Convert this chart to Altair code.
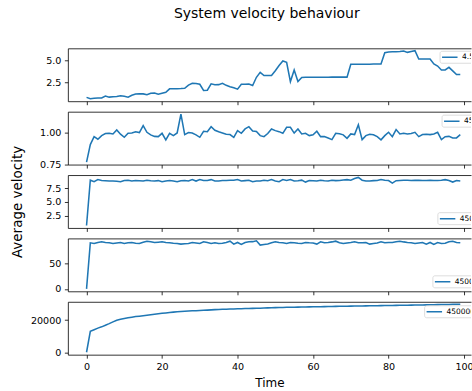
import altair as alt
import pandas as pd

# ---------------- data ----------------
steps = list(range(100))
legend_labels = ["4.5", "45", "450", "4500", "450000"]
x_ticks = [0, 20, 40, 60, 80, 100]
y_ticks = [[2.5, 5.0], [0.75, 1.00], [2.5, 5.0, 7.5], [0, 50], [0, 20000]]

v1 = [0.80, 0.64, 0.70, 0.72, 0.74, 0.95, 0.83, 0.88, 0.90, 0.98,
      0.92, 0.83, 1.05, 1.18, 1.20, 1.20, 1.10, 1.28, 1.30, 1.17,
      1.28, 1.38, 1.78, 1.80, 1.80, 1.81, 1.84, 2.20, 2.42, 2.40,
      2.30, 1.59, 1.62, 2.35, 2.25, 2.26, 2.42, 2.18, 2.02, 1.90,
      1.74, 2.31, 2.30, 2.33, 2.16, 3.10, 3.67, 3.30, 3.30, 3.30,
      3.85, 4.45, 4.96, 4.81, 2.61, 3.94, 2.61, 3.08, 3.10, 3.10,
      3.11, 3.11, 3.11, 3.11, 3.11, 3.12, 3.12, 3.12, 3.12, 3.12,
      4.58, 4.60, 4.60, 4.60, 4.60, 4.60, 4.61, 4.61, 4.62, 5.91,
      6.00, 6.02, 6.02, 6.05, 6.10, 5.95, 6.05, 6.14, 5.19, 5.19,
      5.19, 5.19, 4.62, 4.39, 3.94, 3.94, 4.24, 3.83, 3.41, 3.41]

v2 = [0.767, 0.904, 0.966, 0.946, 0.974, 0.990, 0.992, 0.987, 1.018, 0.985,
      0.961, 0.992, 0.995, 1.004, 0.998, 1.052, 1.000, 0.980, 0.968, 0.966,
      0.992, 0.941, 0.992, 0.974, 0.995, 1.142, 0.982, 0.998, 0.994, 0.980,
      0.961, 1.008, 1.005, 1.044, 1.016, 1.004, 0.995, 0.985, 0.982, 0.961,
      1.013, 0.992, 1.026, 1.044, 1.010, 1.006, 0.974, 0.966, 0.990, 1.026,
      1.013, 1.005, 0.992, 1.039, 1.039, 0.994, 1.026, 0.987, 0.992, 0.974,
      0.980, 1.008, 0.966, 0.966, 0.955, 0.943, 0.992, 0.988, 0.980, 0.953,
      0.987, 0.982, 1.059, 0.943, 0.974, 0.985, 0.980, 0.966, 0.941, 0.974,
      1.000, 0.966, 1.021, 0.987, 0.992, 0.987, 0.990, 1.000, 0.966, 0.982,
      0.984, 0.982, 0.987, 1.000, 0.943, 0.966, 0.968, 0.956, 0.956, 0.982]

v3 = [0.69, 9.00, 8.72, 9.12, 8.95, 8.90, 8.83, 8.85, 8.80, 8.72,
      8.95, 9.00, 8.85, 8.93, 8.90, 8.84, 9.00, 8.88, 8.84, 8.92,
      8.72, 8.85, 8.93, 8.85, 8.72, 8.90, 8.93, 8.84, 9.10, 8.84,
      9.12, 8.93, 8.95, 9.10, 8.84, 8.86, 8.93, 8.95, 9.00, 8.98,
      9.12, 8.85, 8.92, 9.00, 8.72, 8.85, 8.84, 9.00, 8.90, 9.10,
      8.84, 8.72, 9.12, 8.95, 9.12, 8.84, 8.90, 9.00, 8.65, 8.93,
      8.90, 8.84, 8.98, 8.90, 8.84, 9.00, 8.92, 8.93, 9.05, 9.10,
      9.00, 9.30, 9.50, 9.00, 8.85, 8.84, 8.92, 8.95, 9.12, 9.00,
      8.93, 8.45, 8.90, 8.95, 9.00, 8.98, 8.93, 9.00, 8.96, 8.93,
      8.93, 9.00, 8.95, 8.95, 9.00, 9.10, 8.95, 8.65, 8.93, 8.85]

v4 = [0.0, 89.7, 88.5, 90.5, 91.7, 90.4, 89.7, 88.5, 89.5, 90.4,
      88.5, 89.7, 90.4, 89.0, 88.5, 91.0, 92.9, 91.7, 90.4, 91.0,
      91.7, 90.4, 89.7, 89.0, 88.5, 87.2, 88.0, 88.5, 90.4, 89.5,
      88.5, 91.7, 90.4, 88.5, 89.7, 88.5, 89.0, 90.4, 92.9, 87.2,
      90.4, 86.5, 90.4, 91.7, 92.0, 93.6, 85.3, 86.5, 87.2, 89.7,
      91.7, 90.4, 89.7, 88.5, 90.4, 89.7, 89.0, 88.5, 90.4, 89.7,
      89.5, 87.2, 91.7, 89.7, 90.4, 91.5, 92.9, 89.7, 88.5, 89.5,
      90.4, 91.7, 90.0, 89.7, 90.4, 87.2, 88.5, 89.5, 91.7, 89.7,
      90.4, 90.4, 91.7, 92.9, 91.5, 90.4, 89.7, 88.5, 89.5, 90.4,
      87.2, 90.4, 86.5, 90.4, 88.5, 89.0, 91.7, 92.9, 90.4, 89.7]

v5 = [0, 13000, 14000, 15000, 15800, 16800, 17800, 18900, 19900, 20500,
      20950, 21400, 21800, 22200, 22450, 22700, 23000, 23300, 23650, 23950,
      24200, 24450, 24750, 24950, 25200, 25400, 25550, 25650, 25750, 25850,
      25950, 26100, 26200, 26350, 26500, 26600, 26700, 26780, 26860, 26940,
      27010, 27080, 27150, 27220, 27290, 27360, 27420, 27500, 27590, 27680,
      27760, 27840, 27880, 27930, 27980, 28020, 28070, 28120, 28160, 28210,
      28250, 28300, 28340, 28390, 28430, 28480, 28520, 28570, 28620, 28660,
      28700, 28730, 28770, 28800, 28850, 28880, 28920, 28960, 29000, 29030,
      29070, 29110, 29150, 29190, 29230, 29270, 29310, 29350, 29400, 29440,
      29480, 29520, 29570, 29610, 29660, 29700, 29750, 29800, 29850, 29900]

series = [v1, v2, v3, v4, v5]

# ---------------- style / layout ----------------
FONT = "DejaVu Sans"
BLUE = "#1f77b4"
W, H = 404, 53
X_DOMAIN = [-4.95, 101.84]
Y_DOMAINS = [[0.365, 6.415], [0.748, 1.161], [0.25, 9.94], [-4.68, 98.28], [-1495, 31395]]
Y_FORMATS = [".1f", ".2f", ".1f", "d", "d"]
# legend boxes (pixel offsets inside each panel): box left, box top
LEG = [(373.0, 3.0), (375.0, 3.5), (370.8, 37.7), (365.8, 37.5), (357.5, 4.0)]
BOX_H = 12


def panel(i):
    df = pd.DataFrame({"t": steps, "v": series[i]})
    last = i == 4
    xscale = alt.Scale(domain=X_DOMAIN, nice=False, zero=False)
    yscale = alt.Scale(domain=Y_DOMAINS[i], nice=False, zero=False)

    if last:
        xaxis = alt.Axis(values=x_ticks, format="d", title="Time", titleFontSize=12,
                         titlePadding=6)
    else:
        xaxis = alt.Axis(values=x_ticks, labels=False, title=None)

    if i == 2:
        yaxis = alt.Axis(values=y_ticks[i], format=Y_FORMATS[i], title="Average velocity",
                         titleFontSize=13.5, titleX=-50.5, titleY=H / 2,
                         titleBaseline="middle", titleAngle=270)
    else:
        yaxis = alt.Axis(values=y_ticks[i], format=Y_FORMATS[i], title=None)

    line = alt.Chart(df).mark_line(color=BLUE, strokeWidth=1.55, clip=True).encode(
        x=alt.X("t:Q", scale=xscale, axis=xaxis),
        y=alt.Y("v:Q", scale=yscale, axis=yaxis),
    )
    top = alt.Chart(df).mark_point(opacity=0).encode(
        x=alt.X("t:Q", scale=xscale,
                axis=alt.Axis(orient="top", labels=False, ticks=False, title=None)),
    )

    bx, by = LEG[i]
    ld = pd.DataFrame({"label": [legend_labels[i]]})
    box = alt.Chart(ld).mark_rect(fill="white", stroke="#cccccc", strokeWidth=0.8,
                                  cornerRadius=2, opacity=0.8, clip=True).encode(
        x=alt.value(bx), x2=alt.value(bx + 80), y=alt.value(by), y2=alt.value(by + BOX_H))
    handle = alt.Chart(ld).mark_rule(color=BLUE, strokeWidth=1.55, clip=True).encode(
        x=alt.value(bx + 2), x2=alt.value(bx + 17.5), y=alt.value(by + BOX_H / 2))
    text = alt.Chart(ld).mark_text(align="left", baseline="middle", font=FONT, fontSize=7.5,
                                   color="black", clip=True).encode(
        x=alt.value(bx + 22), y=alt.value(by + BOX_H / 2), text="label:N")

    return alt.layer(line, top, box, handle, text).resolve_axis(x="independent").properties(
        width=W, height=H)


chart = alt.vconcat(
    *[panel(i) for i in range(5)],
    spacing=10.5,
    bounds="flush",
    title=alt.TitleParams(text="System velocity behaviour", font=FONT, fontSize=14,
                          fontWeight="normal", color="black", anchor="middle",
                          dx=25, offset=27),
).properties(
    padding={"left": 10, "top": 7, "right": -2, "bottom": 0},
).configure_view(stroke=None).configure_axis(
    domainColor="black", domainWidth=0.8, tickColor="black", tickWidth=0.8,
    tickSize=3.5, labelFont=FONT, labelFontSize=9.6, labelColor="black",
    labelPadding=3.5, grid=False, titleFont=FONT, titleColor="black",
    titleFontWeight="normal",
)

chart.save("out.html", embed_options={"renderer": "svg", "actions": False})
